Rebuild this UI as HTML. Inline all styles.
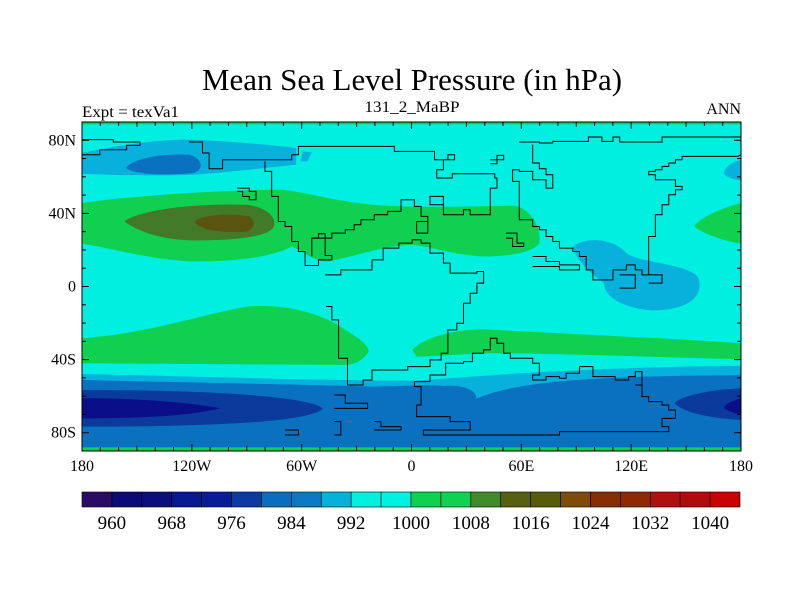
<!DOCTYPE html>
<html><head><meta charset="utf-8"><style>
html,body{margin:0;padding:0;background:#fff;}
svg{display:block;font-family:"Liberation Serif",serif;}
</style></head><body>
<svg id="chart" width="800" height="600" viewBox="0 0 800 600" xmlns="http://www.w3.org/2000/svg">
<text x="412" y="90" font-size="31" text-anchor="middle" textLength="420" lengthAdjust="spacingAndGlyphs">Mean Sea Level Pressure (in hPa)</text>
<text x="82" y="117" font-size="16" textLength="97" lengthAdjust="spacingAndGlyphs">Expt = texVa1</text>
<text x="412" y="112" font-size="16" text-anchor="middle" textLength="95" lengthAdjust="spacingAndGlyphs">131_2_MaBP</text>
<text x="741" y="114" font-size="16" text-anchor="end">ANN</text>
<defs><clipPath id="mapclip"><rect x="82" y="122" width="659" height="329"/></clipPath></defs>
<g clip-path="url(#mapclip)">
<rect x="82" y="122" width="659" height="329" fill="#00efe0"/>
<g transform="translate(82,122) scale(0.4462,0.3337) translate(-50,-97)">
<rect x="50" y="97" width="1477" height="7" fill="#10d050"/>
<path fill="#08b0dc" d="M50,190 C100,175 200,150 290,150 C380,155 470,165 530,175 L530,225 C450,235 400,245 300,255 C200,260 100,255 50,252 Z"/>
<path fill="#08b0dc" d="M545,185 L565,188 L555,215 L540,215 Z"/>
<path fill="#0a70c0" d="M148,235 C160,210 220,190 290,195 C320,205 325,240 300,250 C240,258 170,255 148,235 Z"/>
<path fill="#08b0dc" d="M1527,210 C1500,220 1485,240 1490,255 C1500,265 1515,270 1527,272 Z"/>
<path fill="#10d050" d="M50,340 C150,320 350,300 500,300 C560,310 600,330 700,345 C800,355 900,350 1020,348 C1060,360 1080,420 1075,460 C1060,490 1000,500 950,500 C880,495 830,470 790,465 C720,470 660,500 600,515 C570,515 540,480 520,470 C480,500 400,515 300,515 C200,510 100,470 50,462 Z"/>
<path fill="#437a28" d="M145,395 C180,360 300,340 420,345 C470,355 485,385 480,410 C470,440 400,452 300,452 C220,450 170,420 145,395 Z"/>
<path fill="#5a5410" d="M302,398 C310,375 380,370 425,380 C440,395 438,415 420,425 C380,430 320,425 302,398 Z"/>
<path fill="#10d050" d="M1527,340 C1470,360 1430,390 1422,410 C1440,430 1480,450 1527,462 Z"/>
<path fill="#08b0dc" d="M1150,470 C1180,440 1240,445 1270,490 C1300,520 1400,520 1430,560 C1445,610 1420,660 1330,662 C1260,655 1220,620 1220,580 C1200,560 1160,520 1150,470 Z"/>
<path fill="#10d050" d="M50,745 C200,730 300,680 420,650 C520,640 600,680 640,720 C680,750 700,780 690,790 C680,810 660,825 640,825 L50,820 Z"/>
<path fill="#10d050" d="M790,780 C820,740 880,720 950,718 C1100,730 1300,740 1527,760 L1527,808 C1300,800 1100,790 950,790 C880,795 830,800 800,800 Z"/>
<path fill="#08b0dc" d="M50,852 C300,860 600,872 800,872 C1000,852 1200,832 1527,828 L1527,1083 L50,1083 Z"/>
<path fill="#0a70c0" d="M50,870 C300,878 600,885 700,890 C780,888 820,884 860,888 C930,880 950,930 920,935 C1000,880 1150,858 1527,856 L1527,1083 L50,1083 Z"/>
<path fill="#0a3a9c" d="M50,900 C300,900 550,915 590,955 C560,1000 300,1010 50,1010 Z"/>
<path fill="#0a0e88" d="M50,925 C200,925 300,940 360,955 C300,975 200,985 50,985 Z"/>
<path fill="#0a3a9c" d="M1527,895 C1450,900 1390,920 1378,940 C1400,970 1460,985 1527,990 Z"/>
<path fill="#0a0e88" d="M1527,925 C1500,935 1485,950 1490,955 C1500,965 1515,970 1527,975 Z"/>
<rect x="50" y="1072" width="1477" height="11" fill="#10d050"/>
<g fill="none" stroke="#000" stroke-width="1" vector-effect="non-scaling-stroke">
<polyline vector-effect="non-scaling-stroke" points="50,150 120,150 120,157 180,157 180,167 150,167 150,180 90,180 90,195 50,195"/>
<polyline vector-effect="non-scaling-stroke" points="290,157 320,157 320,190 335,190 335,237 365,237 365,210 520,210 520,195 535,195 535,170 750,170 750,185 840,185 840,210 870,210 870,195 885,195 885,210 860,210 860,240 845,240 845,265 880,265 880,252 975,252 975,265 980,265 980,295 965,295 965,375 920,375 920,360 905,360 905,375 860,375 860,345 830,345 830,320 860,320 860,345"/>
<polyline vector-effect="non-scaling-stroke" points="460,215 460,245 475,245 475,320 490,320 490,395 505,395 505,410 520,410 520,455 535,455 535,485 550,485 550,527 580,527 580,510 610,510 610,497 595,497 595,432 580,432 580,445 565,445 565,500"/>
<polyline vector-effect="non-scaling-stroke" points="565,445 610,445 610,430 640,430 640,420 660,420 660,405 675,405 675,390 705,390 705,375 735,375 735,365 765,365 765,330 795,330 795,350 810,350 810,380 825,380 825,395 800,395 800,430 825,430 825,395"/>
<polyline vector-effect="non-scaling-stroke" points="398,295 425,295 425,305 440,305 440,330 425,330 425,320 410,320 410,305 398,305 Z"/>
<polyline vector-effect="non-scaling-stroke" points="595,555 630,555 630,540 700,540 700,510 725,510 725,475 760,475 760,460 790,460 790,450 810,450 810,460 830,460 830,490 860,490 860,520 875,520 875,550 935,550 935,545 950,545 950,580 935,580 935,610 920,610 920,640 905,640 905,700 890,700 890,720 870,720 870,790 855,790 855,810 830,810 830,830 780,830 780,840 700,840 700,870 680,870 680,885 645,885 645,805 625,805 625,690 610,690 610,650 597,650 Z"/>
<polyline vector-effect="non-scaling-stroke" points="795,875 830,875 830,855 865,855 865,820 905,820 905,815 925,815 925,790 950,790 950,780 965,780 965,745 980,745 980,760 995,760 995,790 1010,790 1010,805 1060,805 1060,820 1075,820 1075,855 1060,855 1060,870 1090,870 1090,860 1120,860 1120,865 1135,865 1135,850 1165,850 1165,830 1195,830 1195,860 1245,860 1245,870 1275,870 1275,860 1290,860 1290,845 1305,845 1305,885"/>
<polyline vector-effect="non-scaling-stroke" points="795,875 795,890 810,890 810,945 800,945 800,980 875,980 875,995 920,995 920,1020 815,1020 815,1035 1120,1035 1120,1025 1365,1025 1365,1010 1350,1010 1350,985 1380,985 1380,960 1365,960 1365,945 1350,945 1350,935 1320,935 1320,920 1305,920 1305,885 1290,885"/>
<polyline vector-effect="non-scaling-stroke" points="615,915 640,915 640,940 690,940 690,955 615,955 Z"/>
<polyline vector-effect="non-scaling-stroke" points="615,995 630,995 630,1035 615,1035 Z"/>
<polyline vector-effect="non-scaling-stroke" points="705,995 720,995 720,1010 765,1010 765,1020 705,1020 Z"/>
<polyline vector-effect="non-scaling-stroke" points="505,1020 535,1020 535,1035 505,1035 Z"/>
<polyline vector-effect="non-scaling-stroke" points="1030,157 1075,157 1075,160 1105,160 1105,155 1185,155 1185,142 1215,142 1215,155 1240,155 1240,142 1255,142 1255,157 1350,157 1350,142 1527,142"/>
<polyline vector-effect="non-scaling-stroke" points="1060,165 1060,220 1075,220 1075,237 1090,237 1090,255 1105,255 1105,295 1090,295 1090,270 1060,270 1060,245 1030,245 1030,240 1015,240 1015,275 1030,275 1030,390 1060,390 1060,410 1075,410 1075,420 1090,420 1090,440 1105,440 1105,455 1120,455 1120,475 1150,475 1150,485 1165,485 1165,500 1180,500 1180,540 1195,540 1195,570 1240,570 1240,540 1270,540 1270,525 1290,525 1290,540 1305,540 1305,555 1320,555 1320,440 1335,440 1335,375 1350,375 1350,345 1365,345 1365,315 1380,315 1380,300 1395,300 1395,290 1380,290 1380,270 1335,270 1335,255 1320,255 1320,245 1335,245 1335,240 1350,240 1350,230 1365,230 1365,220 1380,220 1380,210 1395,210 1395,200 1520,200 1527,195"/>
<polyline vector-effect="non-scaling-stroke" points="1060,500 1090,500 1090,515 1120,515 1120,525 1165,525 1165,540 1120,540 1120,530 1060,530 Z"/>
<polyline vector-effect="non-scaling-stroke" points="1255,555 1290,555 1290,595 1255,595 Z"/>
<polyline vector-effect="non-scaling-stroke" points="1320,555 1350,555 1350,580 1320,580 Z"/>
<polyline vector-effect="non-scaling-stroke" points="1000,430 1025,430 1025,460 1040,460 1040,470 1015,470 1015,445 1000,445 Z"/>
<polyline vector-effect="non-scaling-stroke" points="965,210 995,210 995,197 980,197 980,222 965,222 Z"/>
</g>
</g>
</g>
<rect x="82" y="122" width="659" height="329" fill="none" stroke="#000" stroke-width="1"/>
<g id="axes"></g>
<g id="colorbar"></g>
</svg>
<script>
const lonTicks = [-180, -120, -60, 0, 60, 120, 180];
const lonLabels = ["180", "120W", "60W", "0", "60E", "120E", "180"];
const latTicks = [80, 40, 0, -40, -80];
const latLabels = ["80N", "40N", "0", "40S", "80S"];
const levels = [960,964,968,972,976,980,984,988,992,996,1000,1004,1008,1012,1016,1020,1024,1028,1032,1036,1040];
const levelLabels = ["960","968","976","984","992","1000","1008","1016","1024","1032","1040"];
const levelColors = ["#2a0c66","#0a0a78","#0a0e80","#081890","#081c98","#0a3aa2","#0a6ec0","#0a78c4","#08b0dc","#00f0e0","#00f0e2","#10d050","#12d052","#408a28","#566010","#585c08","#7e4c08","#8a2c04","#902804","#b01010","#b00c0c","#c80000"];
const NS="http://www.w3.org/2000/svg";
const X0=82,X1=741,Y0=122,Y1=451;
const xS=lon=>X0+(lon+180)/360*(X1-X0);
const yS=lat=>Y0+(90-lat)/180*(Y1-Y0);
function mk(tag,at,parent){const e=document.createElementNS(NS,tag);for(const k in at)e.setAttribute(k,at[k]);parent.appendChild(e);return e;}
const ax=document.getElementById('axes');
for(let lon=-180;lon<=180;lon+=10){
  const major=lon%60===0, mid=lon%30===0;
  const L=major?7:(mid?5:4);
  const t1=mk('line',{x1:xS(lon),x2:xS(lon),y1:Y0,y2:Y0+L,stroke:'#000','stroke-width':1},ax);
  
  
  const t2=mk('line',{x1:xS(lon),x2:xS(lon),y1:Y1,y2:Y1-L,stroke:'#000','stroke-width':1},ax);
  
  
}
for(let lat=-90;lat<=90;lat+=10){
  const major=lat%40===0;
  const L=major?7:4;
  const t1=mk('line',{x1:X0,x2:X0+L,y1:yS(lat),y2:yS(lat),stroke:'#000','stroke-width':1},ax);
  
  
  const t2=mk('line',{x1:X1,x2:X1-L,y1:yS(lat),y2:yS(lat),stroke:'#000','stroke-width':1},ax);
  
  
}
lonTicks.forEach((lon,i)=>{
  const t=mk('text',{x:xS(lon),y:471,'font-size':16,'text-anchor':'middle'},ax);
  t.textContent=lonLabels[i];
  
  
});
latTicks.forEach((lat,i)=>{
  const t=mk('text',{x:76,y:yS(lat)+5,'font-size':16,'text-anchor':'end'},ax);
  t.textContent=latLabels[i];
  
  
});
const cb=document.getElementById('colorbar');
const CB0=82,CB1=740,CBY=492,CBH=15;
const bw=(CB1-CB0)/levelColors.length;
levelColors.forEach((c,i)=>{
  const r=mk('rect',{x:CB0+i*bw,y:CBY,width:bw,height:CBH,fill:c,stroke:'#000','stroke-width':0.6},cb);
  
  
});
levels.forEach((v,i)=>{
  const lab=levelLabels.indexOf(String(v));
  if(lab<0)return;
  const t=mk('text',{x:CB0+(i+1)*bw,y:529,'font-size':19,'text-anchor':'middle'},cb);
  t.textContent=levelLabels[lab];
  
  
});
</script>
</body></html>
